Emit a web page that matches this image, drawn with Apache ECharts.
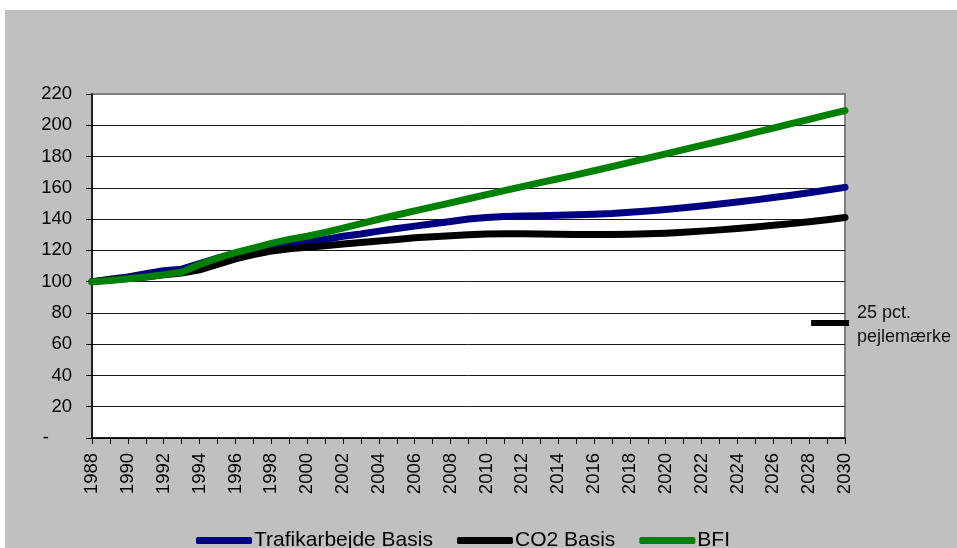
<!DOCTYPE html>
<html>
<head>
<meta charset="utf-8">
<script src="https://cdn.jsdelivr.net/npm/echarts@6/dist/echarts.min.js"></script>
<style>
  html, body { margin: 0; padding: 0; background: #ffffff; }
  #chart { position: absolute; left: 5px; top: 10px; width: 952px; height: 538px; background: #c0c0c0; }
</style>
</head>
<body>
<div id="chart"></div>
<script>
// Years on the x axis
const years = [];
for (let y = 1988; y <= 2030; y++) years.push(String(y));

// Index, 1988 = 100
const trafikarbejde = [
  100, 101.5, 103, 105, 107, 108, 111.5, 115, 117.5, 119.5,
  121, 123, 125, 127, 129, 130.5, 132.3, 134, 135.5, 137,
  138.5, 140, 141, 141.6, 142, 142.2, 142.4, 142.7, 143.1, 143.6,
  144.4, 145.2, 146.1, 147.2, 148.4, 149.6, 150.9, 152.3, 153.8, 155.3,
  156.9, 158.6, 160.3
];
const co2 = [
  100, 101, 102, 103, 104.4, 105.5, 107.5, 111, 114.5, 117.3,
  119.5, 121, 122, 123, 124, 125, 126, 127, 128, 128.7,
  129.4, 130, 130.5, 130.6, 130.6, 130.5, 130.3, 130.2, 130.1, 130.1,
  130.3, 130.6, 131, 131.6, 132.3, 133.1, 134, 135, 136, 137.1,
  138.3, 139.6, 141
];
const bfi = [
  100, 100.8, 101.8, 103, 104.5, 106, 111, 115, 118.5, 121.5,
  124.5, 127, 129, 131.5, 134.2, 137.1, 139.9, 142.6, 145.2, 147.8,
  150.4, 153, 155.6, 158.2, 160.8, 163.3, 165.8, 168.3, 170.9, 173.6,
  176.3, 179, 181.7, 184.4, 187.1, 189.8, 192.6, 195.4, 198.2, 201,
  203.8, 206.6, 209.4
];

// Benchmark marker
const pejlemaerkeYear = '2029';
const pejlemaerkeValue = 73.5;

const seriesNames = ['Trafikarbejde Basis', 'CO2 Basis', 'BFI'];
const seriesColors = ['#000080', '#000000', '#008000'];
const yTicks = [0, 20, 40, 60, 80, 100, 120, 140, 160, 180, 200, 220];

const font = 'Liberation Sans, Arial, sans-serif';
const chart = echarts.init(document.getElementById('chart'), null, { renderer: 'canvas' });

const splitColors = yTicks.map((v, i) => (i === yTicks.length - 1 ? '#808080' : '#1a1a1a'));

function lineSeries(name, data, color) {
  return {
    name: name,
    type: 'line',
    data: data,
    showSymbol: false,
    symbol: 'none',
    smooth: false,
    lineStyle: { color: color, width: 7, cap: 'round', join: 'round' },
    itemStyle: { color: color },
    emphasis: { disabled: true },
    z: 3
  };
}

chart.setOption({
  animation: false,
  backgroundColor: '#c0c0c0',
  textStyle: { fontFamily: font },
  grid: {
    left: 87, right: 112, top: 84, bottom: 110,
    show: true, backgroundColor: '#ffffff',
    borderColor: '#808080', borderWidth: 2
  },
  legend: {
    data: seriesNames.map((n, i) => ({ name: n, itemStyle: { color: seriesColors[i], opacity: 1 } })),
    left: 186, top: 515,
    icon: 'roundRect',
    itemWidth: 56, itemHeight: 7, itemGap: 24,
    textStyle: { fontSize: 21, color: '#000', fontFamily: font, padding: [0, 0, 0, -3] },
    selectedMode: false
  },
  xAxis: {
    type: 'category',
    data: years,
    boundaryGap: false,
    axisLine: { show: true, lineStyle: { color: '#000', width: 1.5 } },
    axisTick: { show: true, interval: 0, length: 6, lineStyle: { color: '#000' } },
    axisLabel: { interval: 1, rotate: 90, margin: 15, fontSize: 18.5, color: '#000', fontFamily: font },
    splitLine: { show: false }
  },
  yAxis: {
    type: 'value',
    min: 0, max: 220, interval: 20,
    axisLine: { show: true, lineStyle: { color: '#000', width: 1.5 } },
    axisTick: { show: true, length: 6, lineStyle: { color: '#000' } },
    axisLabel: {
      margin: 20, fontSize: 18.5, color: '#000', fontFamily: font,
      formatter: v => (v === 0 ? '{d|-}' : String(v)),
      rich: { d: { fontSize: 18.5, color: '#000', padding: [0, 23, 0, 0] } }
    },
    splitLine: { show: true, lineStyle: { color: splitColors, width: 1 } }
  },
  series: [
    lineSeries(seriesNames[0], trafikarbejde, seriesColors[0]),
    lineSeries(seriesNames[1], co2, seriesColors[1]),
    lineSeries(seriesNames[2], bfi, seriesColors[2]),
    {
      name: '25 pct. pejlemærke',
      type: 'scatter',
      data: [[pejlemaerkeYear, pejlemaerkeValue]],
      symbol: 'rect',
      symbolSize: [38, 6],
      symbolOffset: [3, 0],
      clip: false,
      itemStyle: { color: '#000', opacity: 1 },
      emphasis: { disabled: true },
      label: {
        show: true,
        position: 'right',
        distance: 5,
        offset: [3, 2],
        formatter: '25 pct.\npejlemærke',
        fontSize: 18, lineHeight: 24, color: '#111', fontFamily: font
      },
      z: 4
    }
  ]
});
</script>
</body>
</html>
